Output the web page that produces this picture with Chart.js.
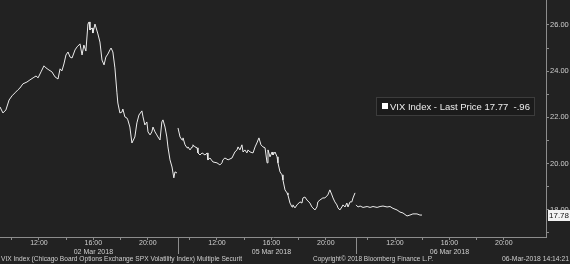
<!DOCTYPE html>
<html>
<head>
<meta charset="utf-8">
<script src="https://cdn.jsdelivr.net/npm/chart.js@4/dist/chart.umd.min.js"></script>
<style>
  html, body { margin: 0; padding: 0; background: #222222; }
  canvas { display: block; }
</style>
</head>
<body>
<canvas id="chartVix" width="570" height="264"></canvas>
<script>
// dias del grafico y sus datos (hora local, precio)
const dates = ['02 Mar 2018', '05 Mar 2018', '06 Mar 2018']

const day1Times = ['09:08','09:21','09:34','09:48','10:01','10:14','10:27','10:36','10:49','11:07','11:20','11:34','11:47','11:56','12:09','12:22','12:31','12:44','12:57','13:11','13:24','13:33','13:41','13:50','13:59','14:08','14:17','14:26','14:39','14:48','15:01','15:10','15:18','15:27','15:36','15:41','15:45','15:54','15:58','16:07','16:11','16:20','16:29','16:38','16:47','16:55','17:04','17:13','17:18','17:26','17:35','17:44','17:48','17:57','18:06','18:10','18:19','18:28','18:32','18:41','18:50','19:03','19:12','19:21','19:34','19:39','19:47','19:56','20:01','20:10','20:18','20:23','20:32','20:40','20:45','20:54','21:02','21:07','21:16','21:24','21:29','21:38','21:47','21:55','22:00','22:09']
const day1Values = [22.45,22.19,22.32,22.75,22.93,23.06,23.19,23.27,23.45,23.53,23.62,23.71,23.79,23.71,23.97,24.23,24.14,24.05,23.97,23.75,23.66,24.10,24.01,24.31,24.70,24.83,24.61,24.57,24.92,25.05,25.18,24.70,25.13,24.87,26.04,26.13,25.78,25.87,25.65,26.04,25.91,25.61,25.26,24.48,24.27,24.61,24.74,24.92,25.00,24.83,24.14,23.06,22.62,22.19,22.23,22.36,22.02,21.97,21.89,21.58,20.89,21.15,21.76,22.10,22.28,22.02,21.67,21.80,21.37,21.24,21.37,21.58,21.37,21.24,21.15,21.02,21.80,21.89,21.58,21.15,20.72,20.16,19.85,19.38,19.64,19.59]

const day2Times = ['09:08','09:17','09:26','09:30','09:39','09:48','09:52','10:01','10:10','10:14','10:23','10:32','10:36','10:45','10:54','11:07','11:16','11:20','11:29','11:42','12:00','12:13','12:22','12:26','12:35','12:49','13:06','13:19','13:28','13:33','13:41','13:50','13:55','14:03','14:12','14:17','14:26','14:39','14:48','14:56','15:05','15:14','15:23','15:32','15:41','15:45','15:54','16:03','16:07','16:16','16:25','16:29','16:38','16:47','16:51','17:00','17:09','17:13','17:22','17:31','17:35','17:44','17:53','18:06','18:15','18:19','18:28','18:37','18:50','18:59','19:03','19:12','19:21','19:25','19:34','19:47','19:56','20:09','20:18','20:27','20:32','20:40','20:49','20:54','21:02','21:11','21:16','21:25','21:33','21:38','21:47','21:55','22:00','22:09']
const day2Values = [21.54,21.15,21.02,21.11,20.81,20.68,20.72,20.59,20.72,20.81,20.72,20.68,20.46,20.37,20.46,20.37,20.46,20.16,20.24,20.07,20.03,19.94,20.03,20.16,20.24,20.16,20.24,20.50,20.59,20.72,20.59,20.81,20.50,20.59,20.46,20.59,20.50,20.46,20.72,20.89,21.11,20.81,20.72,20.68,20.03,20.59,20.29,20.50,20.37,20.50,20.29,20.03,19.64,19.51,19.29,18.86,18.73,18.64,18.29,18.12,18.21,18.08,18.21,18.34,18.29,18.51,18.55,18.42,18.29,18.12,18.08,17.99,18.12,18.34,18.42,18.51,18.51,18.64,18.86,18.64,18.51,18.34,18.21,18.08,17.99,18.12,18.21,18.12,18.29,18.12,18.34,18.34,18.51,18.73]

const day3Times = ['09:08','09:17','09:26','09:39','09:57','10:10','10:23','10:41','10:54','11:07','11:25','11:38','11:51','12:09','12:22','12:35','12:53','13:06','13:19','13:37','13:50','13:59']
const day3Values = [18.21,18.12,18.16,18.10,18.14,18.10,18.14,18.10,18.14,18.16,18.12,18.14,18.06,17.99,17.90,17.86,17.73,17.77,17.82,17.82,17.77,17.77]

const xTickHours = [10, 12, 14, 16, 18, 20]
const xLabelHours = [12, 16, 20]
const yTicks = [17, 18, 19, 20, 21, 22, 23, 24, 25, 26]

const serieNombre = 'VIX Index - Last Price'
const ultimoPrecio = 17.77
const cambio = '-.96'
const precioEtiqueta = 17.78

const pieIzq = 'VIX Index (Chicago Board Options Exchange SPX Volatility Index) Multiple Securit'
const pieCentro = 'Copyright\u00a9 2018 Bloomberg Finance L.P.'
const pieDer = '06-Mar-2018 14:14:21'

// eje de tiempo comprimido: cada dia ocupa una sesion
const inicioSesion = 9 + 8 / 60
const largoDia = 13.09
const xMax = 40.15

const FONDO = '#222222'
const EJE = '#8c8c8c'
const TEXTO = '#cfcfcf'
const LINEA = '#ececec'
const FUENTE = '"Liberation Sans", Arial, sans-serif'

const aX = (dia, hora) => {
    const [hh, mm] = hora.split(':').map(Number)
    return dia * largoDia + hh + mm / 60 - inicioSesion
}

const puntos = []
const dias = [[day1Times, day1Values], [day2Times, day2Values], [day3Times, day3Values]]
dias.forEach(([tiempos, valores], d) => {
    tiempos.forEach((t, i) => puntos.push({ x: aX(d, t), y: valores[i] }))
    if (d < dias.length - 1) puntos.push({ x: aX(d, tiempos[tiempos.length - 1]) + 0.01, y: null })
})

const xTickValues = []
dates.forEach((fecha, d) => {
    xTickHours.forEach(h => xTickValues.push(d * largoDia + h - inicioSesion))
})

const fondoPlugin = {
    id: 'fondo',
    beforeDraw(chart) {
        const { ctx, width, height } = chart
        ctx.save()
        ctx.fillStyle = FONDO
        ctx.fillRect(0, 0, width, height)
        ctx.restore()
    }
}

const extrasPlugin = {
    id: 'extras',
    afterDraw(chart) {
        const { ctx, chartArea } = chart
        const x = chart.scales.x
        const y = chart.scales.y
        ctx.save()

        // separadores de dia
        ctx.strokeStyle = EJE
        ctx.lineWidth = 1
        for (let d = 1; d < dates.length; d++) {
            const px = Math.round(x.getPixelForValue(d * largoDia)) + 0.5
            ctx.beginPath()
            ctx.moveTo(px, chartArea.bottom)
            ctx.lineTo(px, chartArea.bottom + 17)
            ctx.stroke()
        }

        // leyenda
        const lx = chartArea.right - 170, ly = 97
        ctx.fillStyle = '#1b1b1b'
        ctx.fillRect(lx, ly, 159, 18)
        ctx.strokeStyle = '#3c3c3c'
        ctx.strokeRect(lx + 0.5, ly + 0.5, 158, 18)
        ctx.fillStyle = '#ffffff'
        ctx.fillRect(lx + 6, ly + 6, 6, 6)
        ctx.fillStyle = '#ededed'
        ctx.font = '9.5px ' + FUENTE
        ctx.textBaseline = 'middle'
        ctx.textAlign = 'left'
        ctx.fillText(`${serieNombre} ${ultimoPrecio.toFixed(2)}  ${cambio}`, lx + 14, ly + 10, 141)

        // etiqueta de ultimo precio
        const ty = y.getPixelForValue(precioEtiqueta)
        ctx.fillStyle = '#f2f2f2'
        ctx.fillRect(chartArea.right + 2, Math.round(ty) - 5, 22, 11)
        ctx.fillStyle = '#111111'
        ctx.font = '8px ' + FUENTE
        ctx.fillText(precioEtiqueta.toFixed(2), chartArea.right + 3, Math.round(ty) + 0.5, 20)

        // pie de pagina
        ctx.fillStyle = TEXTO
        ctx.font = '7px ' + FUENTE
        const py = chart.height - 5
        ctx.fillText(pieIzq, 1, py, 241)
        ctx.fillText(pieCentro, 313, py, 120)
        ctx.textAlign = 'right'
        ctx.fillText(pieDer, chart.width - 1, py, 67)
        ctx.restore()
    }
}

const canvas = document.getElementById('chartVix')
const context = canvas.getContext('2d')

const chartVix = new Chart(context, {
    type: 'line',
    data: {
        datasets: [
            {
                label: serieNombre,
                data: puntos,
                borderColor: LINEA,
                borderWidth: 1,
                pointRadius: 0,
                tension: 0,
                spanGaps: false
            }
        ]
    },
    options: {
        responsive: false,
        animation: false,
        layout: { padding: 0 },
        plugins: {
            legend: { display: false },
            tooltip: { enabled: false }
        },
        scales: {
            x: {
                type: 'linear',
                min: 0,
                max: xMax,
                afterBuildTicks: scale => {
                    scale.ticks = xTickValues.map(v => ({ value: v }))
                },
                afterFit: scale => {
                    scale.height = 27
                    scale.paddingLeft = 0
                    scale.paddingRight = 0
                },
                grid: {
                    drawOnChartArea: false,
                    drawTicks: true,
                    tickLength: 3,
                    color: EJE
                },
                border: { display: true, color: EJE },
                ticks: {
                    autoSkip: false,
                    maxRotation: 0,
                    padding: -1,
                    color: TEXTO,
                    font: { family: FUENTE, size: 7, lineHeight: 1.25 },
                    callback: value => {
                        const d = Math.floor(value / largoDia)
                        const h = Math.round(value - d * largoDia + inicioSesion)
                        if (!xLabelHours.includes(h)) return ''
                        const txt = `${h}:00`
                        return h === 16 ? [txt, dates[d]] : txt
                    }
                }
            },
            y: {
                position: 'right',
                min: 16.82,
                max: 27.08,
                afterBuildTicks: scale => {
                    scale.ticks = yTicks.map(v => ({ value: v }))
                },
                afterFit: scale => {
                    scale.width = 24
                    scale.paddingTop = 0
                    scale.paddingBottom = 0
                },
                grid: {
                    drawOnChartArea: false,
                    drawTicks: true,
                    tickLength: 3,
                    color: EJE
                },
                border: { display: true, color: EJE },
                ticks: {
                    padding: 1,
                    color: TEXTO,
                    font: { family: FUENTE, size: 7.5 },
                    callback: value => value % 2 === 0 ? value.toFixed(2) : ''
                }
            }
        }
    },
    plugins: [fondoPlugin, extrasPlugin]
})
</script>
</body>
</html>
